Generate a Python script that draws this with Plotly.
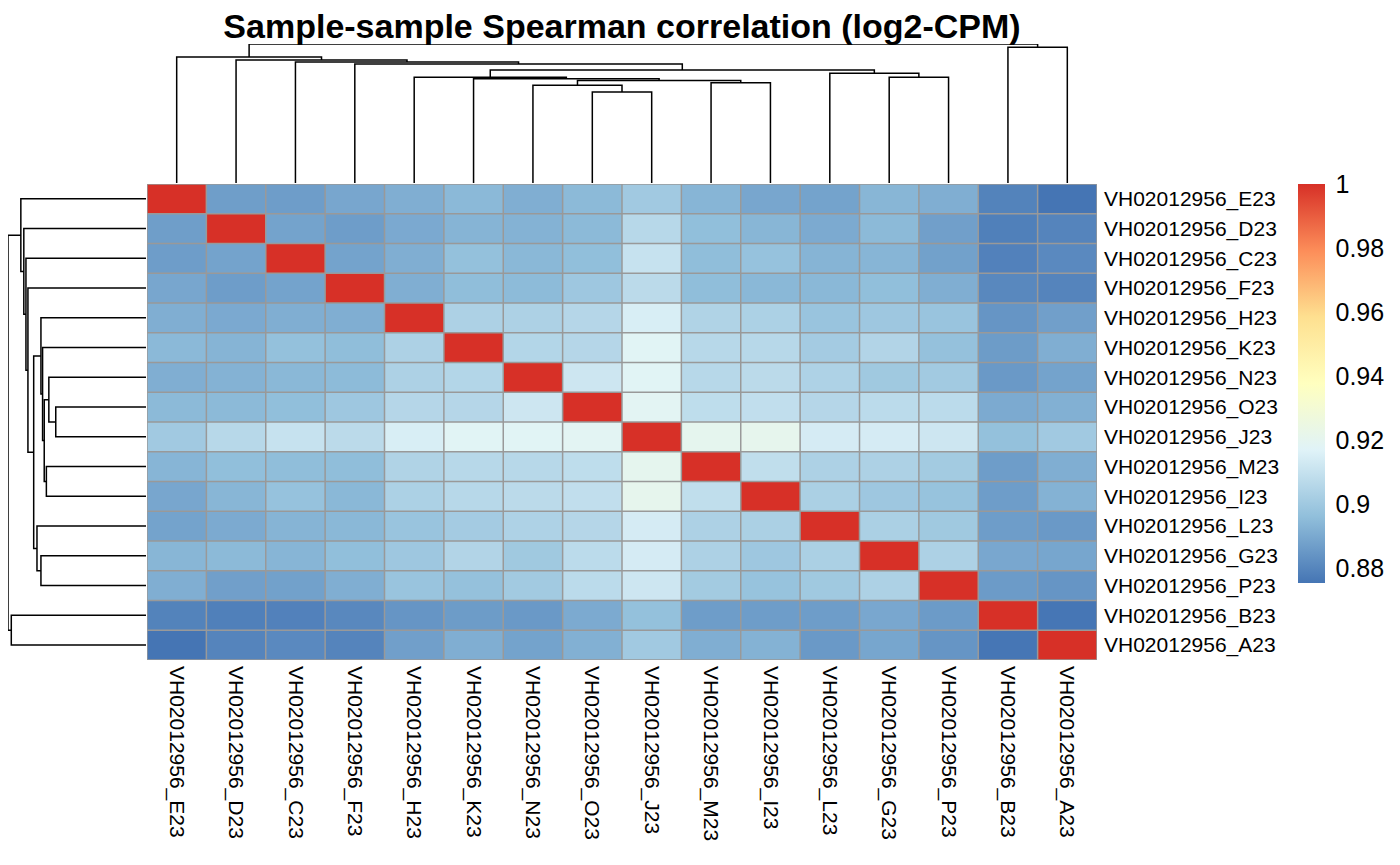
import plotly.graph_objects as go

# samples in the clustered display order (same for rows and columns)
samples = ["E23", "D23", "C23", "F23", "H23", "K23", "N23", "O23",
           "J23", "M23", "I23", "L23", "G23", "P23", "B23", "A23"]
labels = ["VH02012956_" + s for s in samples]

# upper triangle of the Spearman correlation matrix, row by row (diagonal = 1)
row_E = [0.8869, 0.8866, 0.8893, 0.8915, 0.8945, 0.8915, 0.8948, 0.9004, 0.8934, 0.8893, 0.8883, 0.8937, 0.8915, 0.8793, 0.8755]
row_D = [0.8883, 0.8866, 0.8902, 0.8932, 0.8926, 0.8948, 0.9061, 0.8962, 0.8937, 0.8904, 0.8948, 0.8874, 0.8785, 0.8798]
row_C = [0.8883, 0.8915, 0.8970, 0.8943, 0.8962, 0.9103, 0.8959, 0.8975, 0.8932, 0.8934, 0.8877, 0.8790, 0.8812]
row_F = [0.8915, 0.8959, 0.8951, 0.8996, 0.9072, 0.8959, 0.8943, 0.8943, 0.8962, 0.8915, 0.8809, 0.8798]
row_H = [0.9035, 0.9035, 0.9056, 0.9150, 0.9043, 0.9033, 0.8983, 0.8996, 0.8983, 0.8844, 0.8874]
row_K = [0.9053, 0.9056, 0.9180, 0.9061, 0.9061, 0.9012, 0.9048, 0.8972, 0.8863, 0.8915]
row_N = [0.9119, 0.9180, 0.9061, 0.9072, 0.9038, 0.9001, 0.9006, 0.8855, 0.8883]
row_O = [0.9190, 0.9082, 0.9088, 0.9056, 0.9074, 0.9074, 0.8904, 0.8921]
row_J = [0.9205, 0.9210, 0.9140, 0.9140, 0.9119, 0.8970, 0.9004]
row_M = [0.9085, 0.9035, 0.9035, 0.9009, 0.8866, 0.8915]
row_I = [0.9030, 0.8996, 0.8977, 0.8866, 0.8926]
row_L = [0.9030, 0.9001, 0.8866, 0.8855]
row_G = [0.9035, 0.8896, 0.8891]
row_P = [0.8861, 0.8844]
row_B = [0.8758]
upper = [row_E, row_D, row_C, row_F, row_H, row_K, row_N, row_O,
         row_J, row_M, row_I, row_L, row_G, row_P, row_B, []]

# hierarchical clustering merges: (left, right, height); ints point to earlier merges
merges = [
    ("O23", "J23", 0.274),
    ("N23", 0, 0.295),
    ("M23", "I23", 0.3025),
    (1, 2, 0.309),
    ("K23", 3, 0.314),
    ("H23", 4, 0.319),
    ("G23", "P23", 0.319),
    ("L23", 6, 0.331),
    (5, 7, 0.341),
    ("F23", 8, 0.3585),
    ("C23", 9, 0.3645),
    ("D23", 10, 0.371),
    ("E23", 11, 0.380),
    ("B23", "A23", 0.409),
    (12, 13, 0.419),
]

colors = ["#4575B4", "#91BFDB", "#E0F3F8", "#FFFFBF", "#FEE090", "#FC8D59", "#D73027"]

n = len(samples)
z = [[1.0] * n for _ in range(n)]
for i in range(n):
    for k, v in enumerate(upper[i]):
        j = i + 1 + k
        z[i][j] = v
        z[j][i] = v
zmin = min(min(r) for r in z)
zmax = max(max(r) for r in z)


def dendro_segments(merges):
    pos, hgt, a, b = [], [], [], []
    def node(c):
        if isinstance(c, str):
            return samples.index(c), 0.0
        return pos[c], hgt[c]
    for left, right, h in merges:
        x1, h1 = node(left)
        x2, h2 = node(right)
        a += [x1, x1, x2, x2, None]
        b += [h1, h, h, h2, None]
        pos.append((x1 + x2) / 2)
        hgt.append(h)
    return a, b


seg_pos, seg_h = dendro_segments(merges)
top_h = max(m[2] for m in merges)

font = "Liberation Sans, Arial, sans-serif"
W, H = 1400, 865
OFF = 8  # page body margin


def px(v):
    return max(0, (v - OFF) / W)


def py(v):
    return min(1, 1 - (v - OFF) / H)


hx = [px(147), px(1097)]
hy = [py(660), py(184)]

fig = go.Figure()
fig.add_trace(go.Heatmap(
    z=z, x=list(range(n)), y=list(range(n)),
    colorscale=[[i / 6, c] for i, c in enumerate(colors)],
    zmin=zmin, zmax=zmax,
    colorbar=dict(
        x=px(1298), xanchor="left", xpad=0, y=hy[1], yanchor="top", ypad=0,
        len=(583 - 184) / H, lenmode="fraction", thickness=27, outlinewidth=0,
        tickvals=[0.88, 0.9, 0.92, 0.94, 0.96, 0.98, 1.0],
        ticktext=["0.88", "0.9", "0.92", "0.94", "0.96", "0.98", "1"],
        ticks="outside", ticklen=6, tickcolor="rgba(0,0,0,0)",
        tickfont=dict(family=font, size=25, color="black"),
    ),
    hovertemplate="%{z:.3f}<extra></extra>",
))

# column dendrogram
fig.add_trace(go.Scatter(x=seg_pos, y=seg_h, mode="lines", xaxis="x2", yaxis="y2",
                         line=dict(color="black", width=1.5), hoverinfo="skip", showlegend=False))
# row dendrogram
fig.add_trace(go.Scatter(x=seg_h, y=seg_pos, mode="lines", xaxis="x3", yaxis="y3",
                         line=dict(color="black", width=1.5), hoverinfo="skip", showlegend=False))

# cell borders
shapes = []
for i in range(n + 1):
    shapes.append(dict(type="line", xref="x", yref="y", x0=i - 0.5, x1=i - 0.5, y0=-0.5, y1=n - 0.5,
                       line=dict(color="#999999", width=1.5), layer="above"))
    shapes.append(dict(type="line", xref="x", yref="y", y0=i - 0.5, y1=i - 0.5, x0=-0.5, x1=n - 0.5,
                       line=dict(color="#999999", width=1.5), layer="above"))

hidden = dict(visible=False, showgrid=False, zeroline=False)
fig.update_layout(
    width=W, height=H,
    margin=dict(l=0, r=0, t=0, b=0),
    paper_bgcolor="white", plot_bgcolor="white",
    font=dict(family=font, color="black"),
    title=dict(text="Sample-sample Spearman correlation (log2-CPM)",
               x=(hx[0] + hx[1]) / 2, xanchor="center", y=py(26), yanchor="middle",
               font=dict(family=font, size=34, weight="bold", color="black")),
    xaxis=dict(domain=hx, range=[-0.5, n - 0.5], tickvals=list(range(n)), ticktext=labels,
               tickangle=90, ticks="", ticklabelstandoff=5,
               showgrid=False, zeroline=False, tickfont=dict(family=font, size=21)),
    yaxis=dict(domain=hy, range=[n - 0.5, -0.5], tickvals=list(range(n)), ticktext=labels,
               side="right", ticks="", ticklabelstandoff=6, showgrid=False, zeroline=False,
               tickfont=dict(family=font, size=21)),
    xaxis2=dict(domain=hx, range=[-0.5, n - 0.5], anchor="y2", **hidden),
    yaxis2=dict(domain=[py(183), py(44)], range=[0, top_h], anchor="x2", **hidden),
    xaxis3=dict(domain=[px(8), px(146)], range=[top_h, 0], anchor="y3", **hidden),
    yaxis3=dict(domain=hy, range=[n - 0.5, -0.5], anchor="x3", **hidden),
    shapes=shapes,
)

fig.write_html("out.html")
